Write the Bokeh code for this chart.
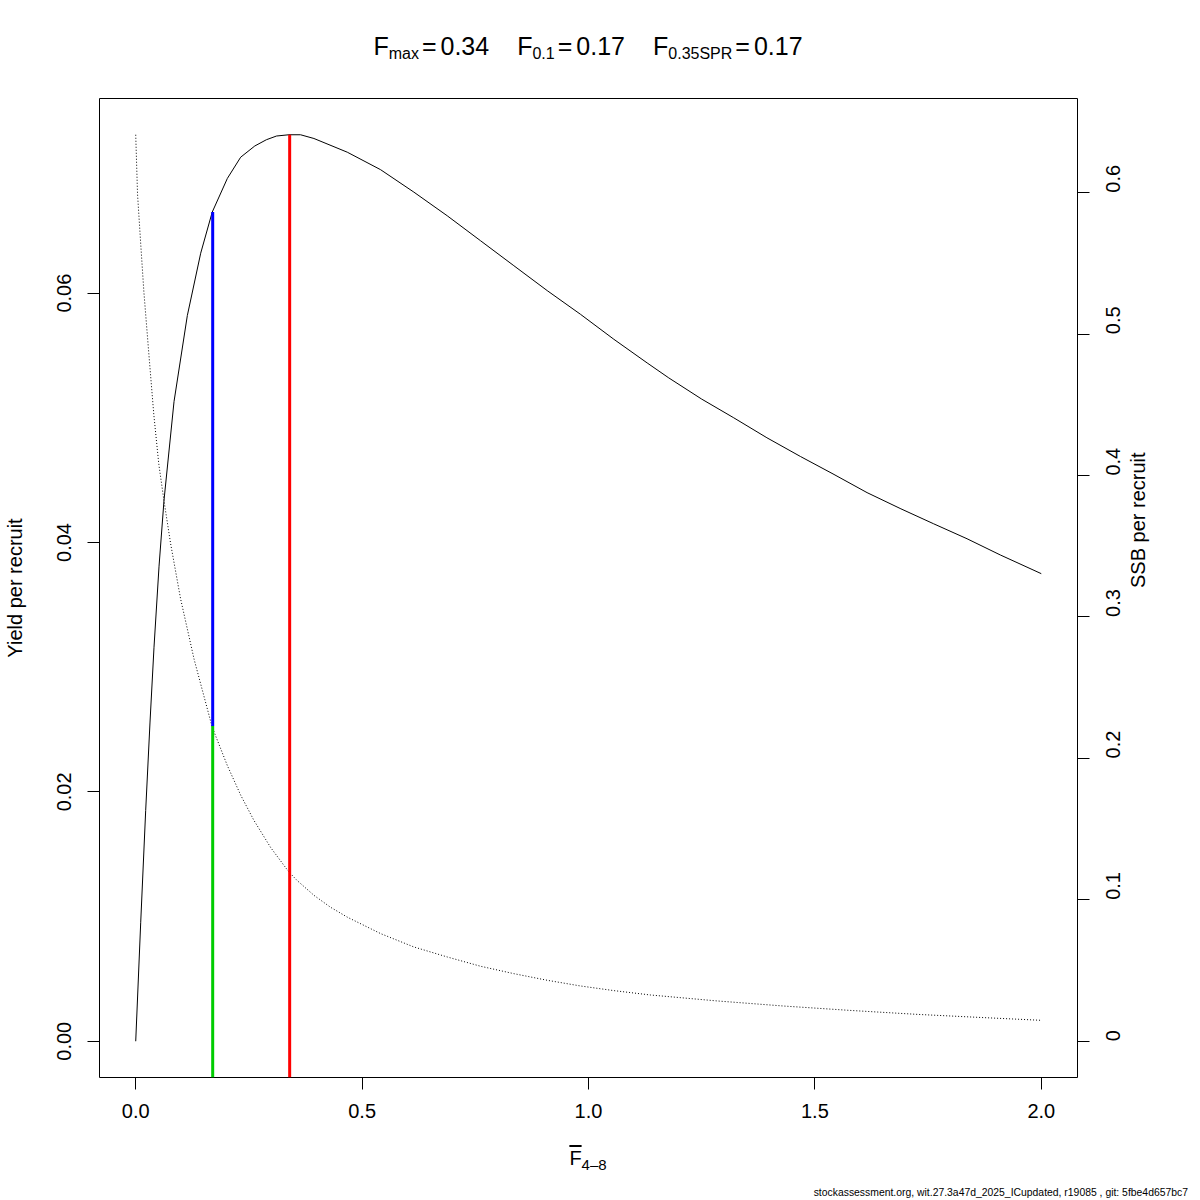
from bokeh.plotting import figure
from bokeh.models import Range1d, LinearAxis, FixedTicker, Div
from bokeh.layouts import column
from bokeh.embed import file_html
from bokeh.resources import INLINE
import math

# ---------------- data ----------------
F_ypr = [0, 0.011, 0.022, 0.0316, 0.0404, 0.0515, 0.0625, 0.0846, 0.114, 0.1435, 0.169, 0.2024,
         0.2318, 0.263, 0.2885, 0.311, 0.3384, 0.364, 0.3936, 0.4673, 0.5408, 0.6143, 0.6881, 0.7616,
         0.8351, 0.9088, 0.9823, 1.0559, 1.1296, 1.1773, 1.25, 1.3208, 1.394, 1.4680, 1.54, 1.6152,
         1.69, 1.7623, 1.836, 1.9095, 2.0]
ypr = [0, 0.0095, 0.0185, 0.0256, 0.0316, 0.0381, 0.0434, 0.0513, 0.0582, 0.0632, 0.0665, 0.0692,
       0.0709, 0.0718, 0.0723, 0.0726, 0.0727, 0.0727, 0.0724, 0.0713, 0.0699, 0.0681, 0.0662, 0.0642,
       0.0622, 0.0602, 0.0583, 0.0563, 0.0544, 0.0532, 0.0515, 0.0500, 0.0484, 0.0469, 0.0455, 0.0440,
       0.0427, 0.0415, 0.0403, 0.0390, 0.0375]

F_ssb = [0, 0.004, 0.011, 0.018, 0.029, 0.040, 0.051, 0.0625, 0.077, 0.099, 0.129, 0.169, 0.2024,
         0.232, 0.261, 0.298, 0.338, 0.357, 0.394, 0.430, 0.467, 0.541, 0.614, 0.688, 0.762, 0.835,
         0.909, 0.982, 1.056, 1.137, 1.284, 1.431, 1.578, 1.726, 1.873, 2.0]
ssb = [0.641, 0.599, 0.564, 0.530, 0.486, 0.443, 0.408, 0.382, 0.352, 0.313, 0.270, 0.222, 0.1949,
       0.1739, 0.1562, 0.1370, 0.1198, 0.1135, 0.1031, 0.0948, 0.0878, 0.0761, 0.0667, 0.0596, 0.0530,
       0.0478, 0.0431, 0.0391, 0.0358, 0.0327, 0.0285, 0.0249, 0.0218, 0.0190, 0.0167, 0.0148]

ref_F = [0.34, 0.17, 0.17]          # Fmax, F0.1, F0.35SPR
ypr_at_fmax = 0.0727
ypr_at_f01 = 0.0665
ssb_at_f35 = 0.223

x_ticks = [0, 0.5, 1.0, 1.5, 2.0]
x_tick_labels = ["0.0", "0.5", "1.0", "1.5", "2.0"]
yl_ticks = [0, 0.02, 0.04, 0.06]
yl_tick_labels = ["0.00", "0.02", "0.04", "0.06"]
yr_ticks = [0, 0.1, 0.2, 0.3, 0.4, 0.5, 0.6]
yr_tick_labels = ["0", "0.1", "0.2", "0.3", "0.4", "0.5", "0.6"]

ylab_left = "Yield per recruit"
ylab_right = "SSB per recruit"
footnote = "stockassessment.org, wit.27.3a47d_2025_ICupdated, r19085 , git: 5fbe4d657bc7"

# ---------------- ranges (R style 4% expansion) ----------------
def expand(lo, hi):
    d = (hi - lo) * 0.04
    return lo - d, hi + d

xlo, xhi = expand(min(F_ypr), max(F_ypr))
ylo, yhi = expand(0, max(ypr))
k = max(ypr) / max(ssb)  # SSB scaled so that its maximum meets the YPR maximum

FONT = "Liberation Sans"
TITLE_H = 90
BOTTOM_H = 58

p = figure(width=1200, height=1140 - TITLE_H, frame_width=978, frame_height=979,
           x_range=Range1d(xlo, xhi), y_range=Range1d(ylo, yhi),
           output_backend="svg", toolbar_location=None,
           min_border_left=99, min_border_right=123, min_border_top=98 - TITLE_H,
           min_border_bottom=1140 - 1077)
p.extra_y_ranges = {"ssb": Range1d(ylo / k, yhi / k)}
p.title.visible = False
p.grid.visible = False
p.outline_line_color = "black"
p.outline_line_alpha = 1.0
p.outline_line_width = 1
p.background_fill_color = "white"
p.border_fill_color = "white"

right_axis = LinearAxis(y_range_name="ssb")
p.add_layout(right_axis, "right")

def style_axis(ax, ticks, labels, standoff):
    ax.ticker = FixedTicker(ticks=ticks)
    ax.major_label_overrides = {t: l for t, l in zip(ticks, labels)}
    ax.axis_line_color = None
    ax.major_tick_line_color = "black"
    ax.major_tick_out = 12
    ax.major_tick_in = 0
    ax.minor_tick_line_color = None
    ax.major_label_text_font = FONT
    ax.major_label_text_font_size = "20px"
    ax.major_label_text_color = "black"
    ax.major_label_standoff = standoff
    ax.axis_label_text_font = FONT
    ax.axis_label_text_font_size = "20px"
    ax.axis_label_text_font_style = "normal"
    ax.axis_label_text_color = "black"

style_axis(p.xaxis[0], x_ticks, x_tick_labels, 14)
style_axis(p.yaxis[0], yl_ticks, yl_tick_labels, 16)
style_axis(right_axis, yr_ticks, yr_tick_labels, 24)
p.yaxis[0].major_label_orientation = "vertical"
right_axis.major_label_orientation = math.pi / 2
p.yaxis[0].axis_label = ylab_left
p.yaxis[0].axis_label_standoff = 29
right_axis.axis_label = ylab_right
right_axis.axis_label_standoff = 7
if hasattr(right_axis, "axis_label_orientation"):
    right_axis.axis_label_orientation = math.pi / 2

# curves
p.line(F_ypr, ypr, line_color="black", line_width=1)
p.line(F_ssb, ssb, line_color="black", line_width=1, line_dash="1 2", y_range_name="ssb")

# reference lines
ssb35_left = ssb_at_f35 * k
p.segment(x0=[ref_F[0]], y0=[ylo], x1=[ref_F[0]], y1=[ypr_at_fmax], line_color="#FF0000", line_width=3)
p.segment(x0=[ref_F[1]], y0=[ssb35_left], x1=[ref_F[1]], y1=[ypr_at_f01], line_color="#0000FF", line_width=3)
p.segment(x0=[ref_F[2]], y0=[ylo], x1=[ref_F[2]], y1=[ssb35_left], line_color="#00CD00", line_width=3)

# ---------------- title and bottom texts (HTML, for sub/overline) ----------------
SUB = "font-size:16px;vertical-align:-4px;line-height:0"
GAP = '<span style="display:inline-block;width:28px"></span>'
def term(name, val):
    return (f'F<sub style="{SUB}">{name}</sub>'
            f'<span style="display:inline-block;margin:0 4px 0 3px">=</span>{val:.2f}')

title_html = (
    f'<div style="width:978px;margin-left:99px;padding-top:34px;text-align:center;'
    f'font-family:{FONT};font-size:25px;line-height:25px;color:black;white-space:nowrap">'
    + term("max", ref_F[0]) + GAP + term("0.1", ref_F[1]) + GAP + term("0.35SPR", ref_F[2])
    + '</div>'
)
title_div = Div(text=title_html, width=1200, height=TITLE_H, styles={"margin": "0", "padding": "0"})

bottom_html = (
    f'<div style="position:relative;width:1200px;height:{BOTTOM_H}px;font-family:{FONT};color:black">'
    f'<div style="width:978px;margin-left:99px;padding-top:8px;text-align:center;font-size:20px;line-height:20px">'
    f'<span style="text-decoration:overline">F</span><sub style="font-size:15px;vertical-align:-5px;line-height:0">4\u20138</sub></div>'
    f'<div style="position:absolute;right:12px;bottom:0px;font-size:10.4px;line-height:10px;white-space:nowrap">{footnote}</div>'
    '</div>'
)
bottom_div = Div(text=bottom_html, width=1200, height=BOTTOM_H, styles={"margin": "0", "padding": "0"})

layout = column(title_div, p, bottom_div, spacing=0)
open("out.html", "w").write(file_html(layout, INLINE))
